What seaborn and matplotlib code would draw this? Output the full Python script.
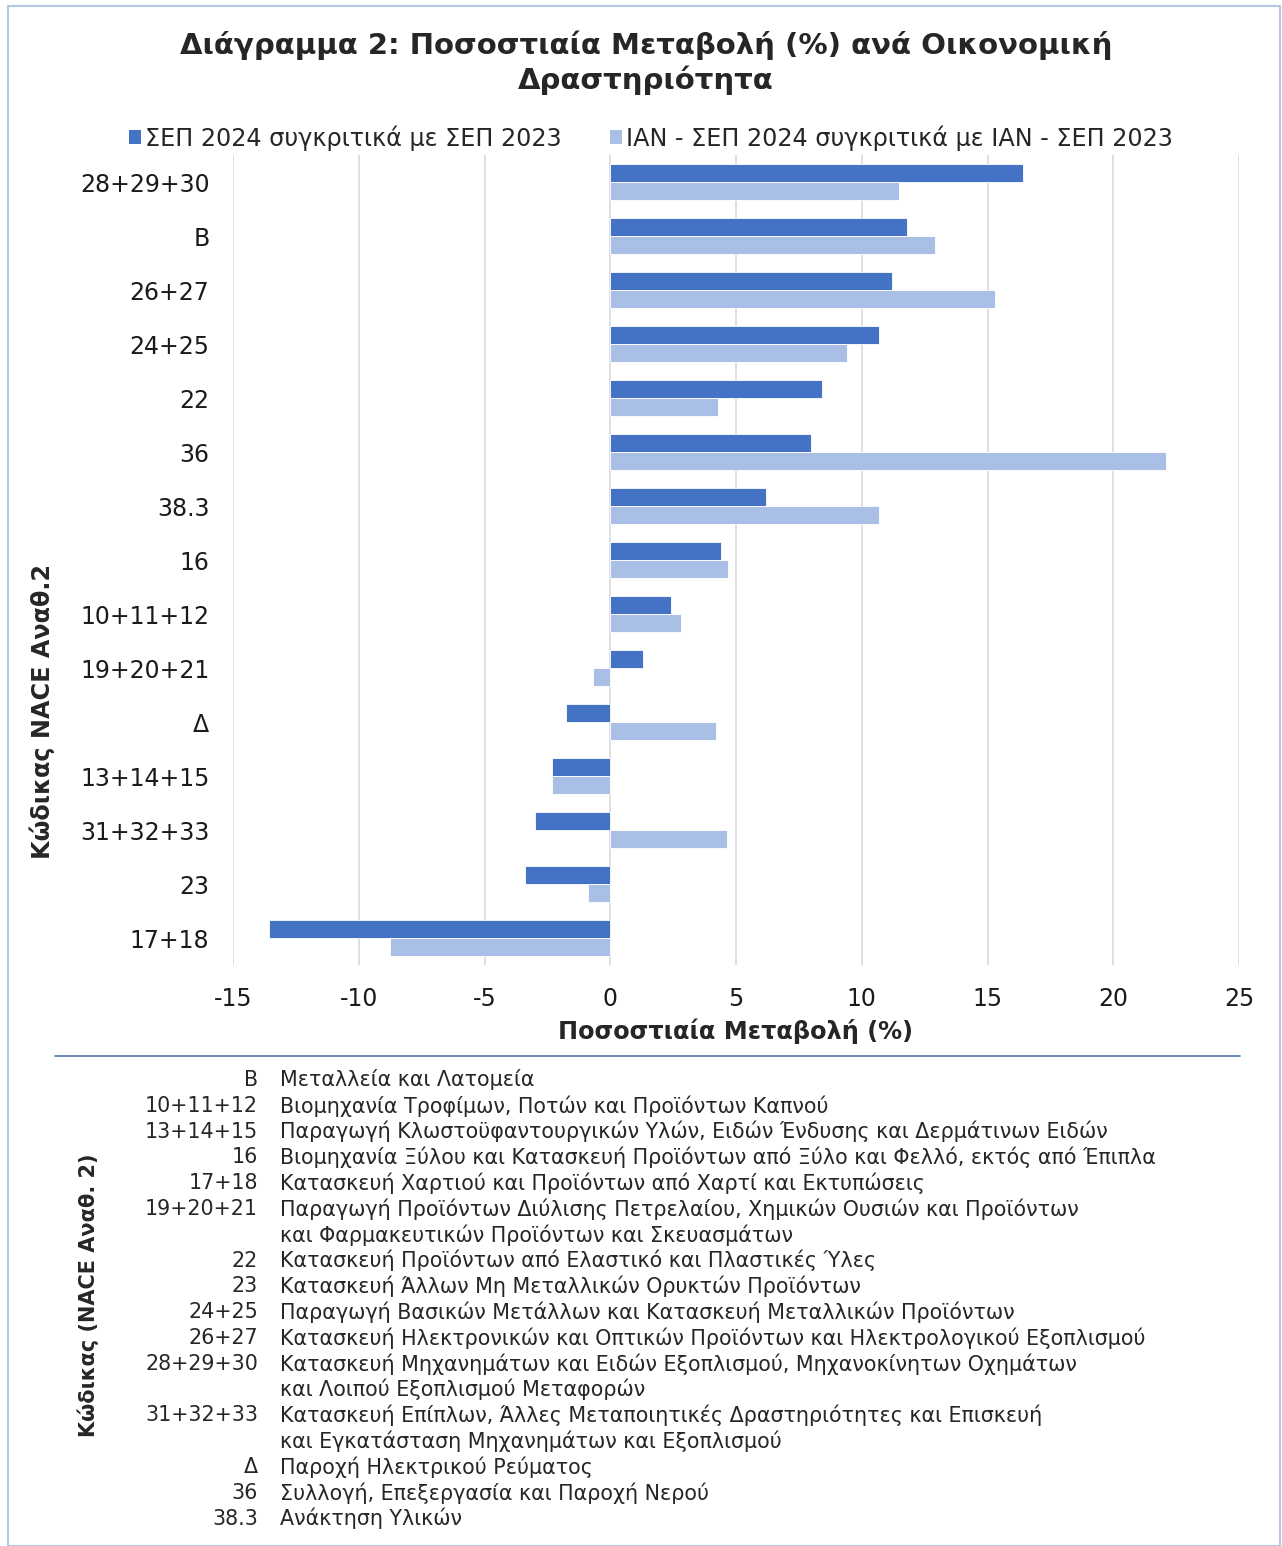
import matplotlib
matplotlib.use("Agg")
import matplotlib.pyplot as plt
from matplotlib.lines import Line2D
from matplotlib.patches import Rectangle, Patch
import seaborn as sns
import pandas as pd

# Δεδομένα
kodikoi = ["28+29+30", "Β", "26+27", "24+25", "22", "36", "38.3", "16",
           "10+11+12", "19+20+21", "Δ", "13+14+15", "31+32+33", "23", "17+18"]
sep_2024 = [16.4, 11.8, 11.2, 10.7, 8.4, 8.0, 6.2, 4.4,
            2.4, 1.3, -1.75, -2.3, -3.0, -3.4, -13.55]
ian_sep_2024 = [11.5, 12.9, 15.3, 9.4, 4.3, 22.1, 10.7, 4.7,
                2.8, -0.7, 4.2, -2.3, 4.65, -0.9, -8.75]
seires = ["ΣΕΠ 2024 συγκριτικά με ΣΕΠ 2023",
          "ΙΑΝ - ΣΕΠ 2024 συγκριτικά με ΙΑΝ - ΣΕΠ 2023"]
x_ticks = [-15, -10, -5, 0, 5, 10, 15, 20, 25]

pinakas_kodikoi = ["Β", "10+11+12", "13+14+15", "16", "17+18", "19+20+21", "22", "23",
                   "24+25", "26+27", "28+29+30", "31+32+33", "Δ", "36", "38.3"]
pinakas_perigrafi = [
    "Μεταλλεία και Λατομεία",
    "Βιομηχανία Τροφίμων, Ποτών και Προϊόντων Καπνού",
    "Παραγωγή Κλωστοϋφαντουργικών Υλών, Ειδών Ένδυσης και Δερμάτινων Ειδών",
    "Βιομηχανία Ξύλου και Κατασκευή Προϊόντων από Ξύλο και Φελλό, εκτός από Έπιπλα",
    "Κατασκευή Χαρτιού και Προϊόντων από Χαρτί και Εκτυπώσεις",
    "Παραγωγή Προϊόντων Διύλισης Πετρελαίου, Χημικών Ουσιών και Προϊόντων\nκαι Φαρμακευτικών Προϊόντων και Σκευασμάτων",
    "Κατασκευή Προϊόντων από Ελαστικό και Πλαστικές Ύλες",
    "Κατασκευή Άλλων Μη Μεταλλικών Ορυκτών Προϊόντων",
    "Παραγωγή Βασικών Μετάλλων και Κατασκευή Μεταλλικών Προϊόντων",
    "Κατασκευή Ηλεκτρονικών και Οπτικών Προϊόντων και Ηλεκτρολογικού Εξοπλισμού",
    "Κατασκευή Μηχανημάτων και Ειδών Εξοπλισμού, Μηχανοκίνητων Οχημάτων\nκαι Λοιπού Εξοπλισμού Μεταφορών",
    "Κατασκευή Επίπλων, Άλλες Μεταποιητικές Δραστηριότητες και Επισκευή\nκαι Εγκατάσταση Μηχανημάτων και Εξοπλισμού",
    "Παροχή Ηλεκτρικού Ρεύματος",
    "Συλλογή, Επεξεργασία και Παροχή Νερού",
    "Ανάκτηση Υλικών",
]

df = pd.DataFrame({
    "Κωδικός": kodikoi * 2,
    "Μεταβολή": sep_2024 + ian_sep_2024,
    "Σειρά": [seires[0]] * len(kodikoi) + [seires[1]] * len(kodikoi),
})

sns.set_style("white")
plt.rcParams["font.family"] = ["DejaVu Sans"]
plt.rcParams["axes.unicode_minus"] = False

W, H = 1282, 1546
fig = plt.figure(figsize=(W / 100, H / 100), dpi=100)
ax = fig.add_axes([233 / W, 1 - 965 / H, (1239 - 233) / W, (965 - 155) / H])

xroma = ["#4472C4", "#A9BFE5"]
sns.barplot(data=df, y="Κωδικός", x="Μεταβολή", hue="Σειρά", order=kodikoi,
            hue_order=seires, palette=xroma, orient="h", width=0.67, saturation=1,
            edgecolor="white", linewidth=0.6, legend=False, ax=ax)

ax.set_xlim(-15, 25)
ax.set_xticks(x_ticks)
ax.set_ylim(len(kodikoi) - 0.5, -0.5)
ax.grid(axis="x", color="#D9D9D9", linewidth=1.2)
ax.set_axisbelow(True)
for s in ax.spines.values():
    s.set_visible(False)
ax.tick_params(axis="x", labelsize=17, pad=16, length=0, labelcolor="#1a1a1a")
ax.tick_params(axis="y", labelsize=17, pad=17, length=0, labelcolor="#1a1a1a")
ax.set_xlabel("Ποσοστιαία Μεταβολή (%)", fontsize=17.3, fontweight="bold", labelpad=5)
ax.set_ylabel("")

fig.text(42 / W, 1 - 711 / H, "Κώδικας NACE Αναθ.2", rotation=90, fontsize=17.2,
         fontweight="bold", ha="center", va="center")

# Τίτλος
fig.text(646 / W, 1 - 63 / H, "Διάγραμμα 2: Ποσοστιαία Μεταβολή (%) ανά Οικονομική\nΔραστηριότητα",
         ha="center", va="center", fontsize=21, fontweight="bold", linespacing=1.25)

# Υπόμνημα
handles = [Patch(facecolor=c, edgecolor="none") for c in xroma]
fig.legend(handles, seires, loc="center", bbox_to_anchor=(651 / W, 1 - 138 / H), ncol=2,
           frameon=False, fontsize=17.2, handlelength=0.5, handleheight=0.5,
           handletextpad=0.2, columnspacing=2.0)

# Γραμμή διαχωρισμού
fig.add_artist(Line2D([55 / W, 1240 / W], [1 - 1056 / H] * 2, color="#4F73A8", linewidth=1.2))

# Πίνακας κωδικών
grammi = 0
for kod, per in zip(pinakas_kodikoi, pinakas_perigrafi):
    y0 = 1080 + 25.8 * grammi
    fig.text(258 / W, 1 - y0 / H, kod, ha="right", va="center", fontsize=14.9)
    for i, kom in enumerate(per.split("\n")):
        fig.text(280 / W, 1 - (y0 + 25.8 * i) / H, kom, ha="left", va="center", fontsize=14.9)
    grammi += len(per.split("\n"))

fig.text(88 / W, 1 - 1295 / H, "Κώδικας (NACE Αναθ. 2)", rotation=90, fontsize=15,
         fontweight="bold", ha="center", va="center")

# Πλαίσιο
fig.add_artist(Rectangle((8 / W, 0), 1 - 10 / W, 1 - 6 / H, transform=fig.transFigure,
                         fill=False, edgecolor="#B4C7E7", linewidth=1.5))

fig.savefig("out.png", dpi=100)
